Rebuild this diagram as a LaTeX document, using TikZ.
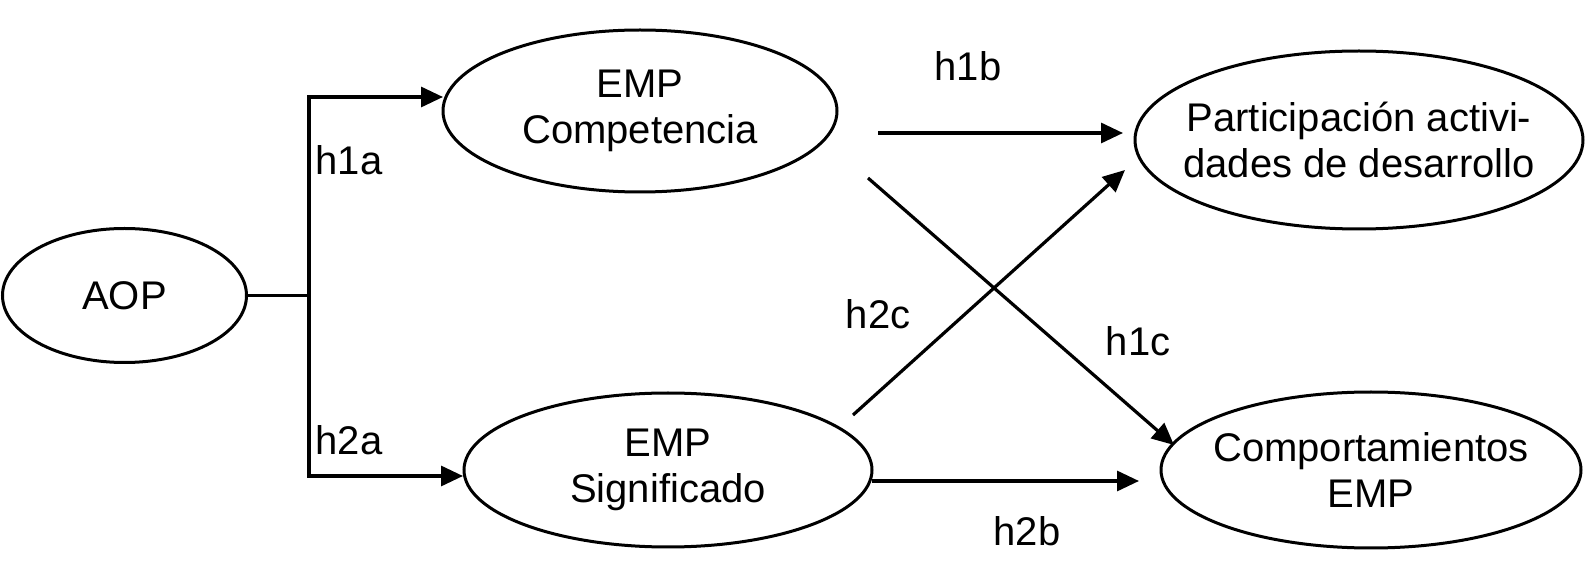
\documentclass[tikz,border=0pt]{standalone}
\usepackage{fontspec}
\setmainfont{Liberation Sans}
\usetikzlibrary{arrows.meta}

\tikzset{
    construct/.style={align=center, inner sep=0pt, font=\fontsize{20}{23}\selectfont},
    rim/.style={line width=1.5pt},
    hyp/.style={font=\fontsize{20}{23}\selectfont},
    path/.style={line width=1.6pt, -{Triangle[length=11pt,width=10pt]}},
    link/.style={line width=1.6pt}
}

\begin{document}
\begin{tikzpicture}[x=0.5pt, y=-0.5pt]
        \useasboundingbox (0,0) rectangle (1587,577);

        % Constructs
        \node[construct] (aop) at (124.5,295.5) {AOP};
        \node[construct] (comp) at (640,111) {EMP\\Competencia};
        \node[construct] (sig) at (668,470) {EMP\\Significado};
        \node[construct] (part) at (1359,140) {Participación activi-\\dades de desarrollo};
        \node[construct] (behav) at (1371,470) {Comportamientos\\EMP};

        % Outlines
        \draw[rim] (aop.center) ellipse [x radius=61pt, y radius=33.5pt];
        \draw[rim] (comp.center) ellipse [x radius=98.5pt, y radius=40.5pt];
        \draw[rim] (sig.center) ellipse [x radius=102pt, y radius=38.5pt];
        \draw[rim] (part.center) ellipse [x radius=112pt, y radius=44.5pt];
        \draw[rim] (behav.center) ellipse [x radius=105pt, y radius=39pt];

        % Branch points
        \coordinate (split) at (309,295.5);
        \coordinate (aopE) at (246,295.5);
        \coordinate (compW) at (443,97);
        \coordinate (sigW) at (463,476);
        \coordinate (h1bS) at (878,133);
        \coordinate (h1bE) at (1123,133);
        \coordinate (h2bS) at (872,481);
        \coordinate (h2bE) at (1139,481);
        \coordinate (h1cS) at (868,178);
        \coordinate (h1cE) at (1174,445);
        \coordinate (h2cS) at (853,415);
        \coordinate (h2cE) at (1125,170);

        % AOP to both EMP
        \draw[link] (aopE) -- (split);
        \draw[path] (split) |- (compW);
        \draw[path] (split) |- (sigW);

        % Paths to outcomes
        \draw[path] (h1bS) -- (h1bE);
        \draw[path] (h2bS) -- (h2bE);
        \draw[path] (h1cS) -- (h1cE);
        \draw[path] (h2cS) -- (h2cE);

        % Hypotheses
        \node[hyp] (h1a) at (349,160) {h1a};
        \node[hyp] (h2a) at (349,440) {h2a};
        \node[hyp] (h1b) at (968,66) {h1b};
        \node[hyp] (h2b) at (1027,531) {h2b};
        \node[hyp] (h1c) at (1138,341) {h1c};
        \node[hyp] (h2c) at (878,314) {h2c};

    \end{tikzpicture}
\end{document}
